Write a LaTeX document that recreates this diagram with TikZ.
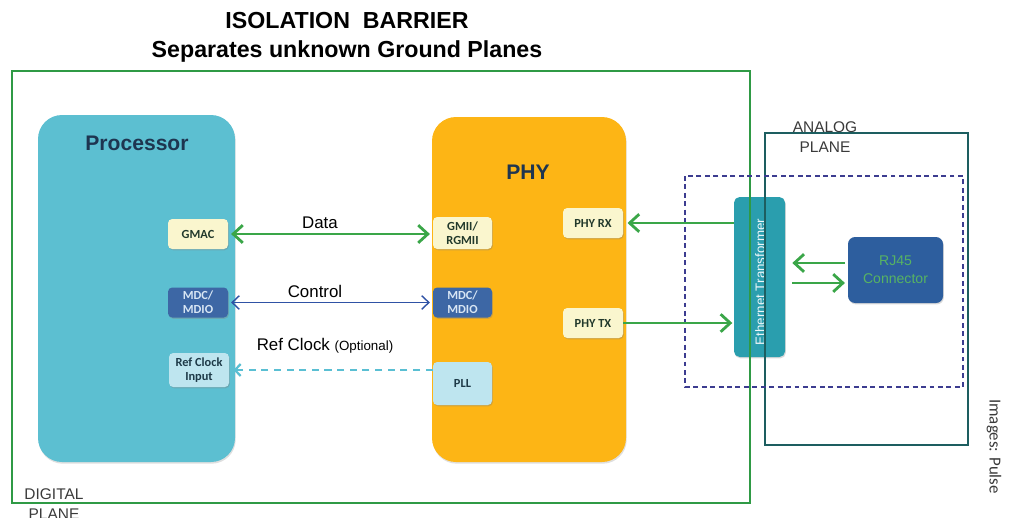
\documentclass[tikz,border=0pt]{standalone}
\usepackage{fontspec}
\setmainfont{Liberation Sans}
\newfontfamily\boxfont{Carlito}
\usepackage{xcolor}
\usepackage{tikz}
\usetikzlibrary{shapes,arrows,arrows.meta,positioning,calc,shadows}

\definecolor{procblue}{HTML}{5CBFD1}
\definecolor{phyorange}{HTML}{FDB515}
\definecolor{creambox}{HTML}{FAF6CE}
\definecolor{creamtext}{HTML}{22392B}
\definecolor{mdcblue}{HTML}{3D67A5}
\definecolor{mdctext}{HTML}{D8E6F4}
\definecolor{liteblue}{HTML}{BEE5EF}
\definecolor{litetext}{HTML}{1E3A48}
\definecolor{etteal}{HTML}{2A9EAE}
\definecolor{rjblue}{HTML}{2D5E9E}
\definecolor{greenln}{HTML}{3AA648}
\definecolor{ctrlblue}{HTML}{2F52A5}
\definecolor{clkblue}{HTML}{5ABFD3}
\definecolor{barrier}{HTML}{2F9A45}
\definecolor{analogln}{HTML}{1D5E60}
\definecolor{dashnavy}{HTML}{3C3C90}
\definecolor{planegray}{HTML}{3A3A3A}
\definecolor{lbldark}{HTML}{1E3550}

\begin{document}
\begin{tikzpicture}[
  bigblk/.style={rectangle, rounded corners=0.6cm, drop shadow={opacity=0.25, shadow xshift=0.5pt, shadow yshift=-1.2pt}},
  procblk/.style={bigblk, fill=procblue, minimum width=4.925cm, minimum height=8.675cm},
  phyblk/.style={bigblk, fill=phyorange, minimum width=4.85cm, minimum height=8.625cm},
  blklbl/.style={anchor=base, text=lbldark, font=\fontsize{15}{18}\selectfont\bfseries},
  port/.style={rectangle, rounded corners=3pt, minimum width=1.5cm, minimum height=0.75cm, inner sep=1pt, align=center,
    font=\fontsize{8.8}{10.2}\selectfont\boxfont\bfseries, drop shadow={opacity=0.35, shadow xshift=0.6pt, shadow yshift=-0.9pt}},
  creamport/.style={port, fill=creambox, text=creamtext},
  mdcport/.style={port, fill=mdcblue, text=mdctext},
  liteport/.style={port, fill=liteblue, text=litetext},
  title/.style={anchor=base, font=\fontsize{16.5}{20}\selectfont\bfseries},
  lbl/.style={anchor=base, font=\fontsize{12}{14}\selectfont},
  plane/.style={align=center, text=planegray, font=\fontsize{11}{14.2}\selectfont},
  gptr/.style={->, >={Straight Barb[length=2.4mm,width=4.4mm]}, line width=2pt, greenln},
  dataln/.style={gptr, <->},
  ctrlln/.style={<->, >={Straight Barb[length=1.8mm,width=3.4mm]}, line width=1pt, ctrlblue},
  clkln/.style={->, >={Straight Barb[length=1.4mm,width=3mm]}, line width=1.6pt, clkblue, dash pattern=on 5pt off 4pt}
]
\useasboundingbox (0,0) rectangle (25.35,-12.925);

% titles
\node[title] (ttl) at (8.675,-0.7) {ISOLATION\ \ BARRIER};
\node[title] (subttl) at (8.675,-1.425) {Separates unknown Ground Planes};

% processor side
\node[procblk] (proc) at (3.4125,-7.2125) {};
\node[blklbl] (proclbl) at (3.425,-3.75) {Processor};
\node[creamport] (gmac) at (4.95,-5.85) {GMAC};
\node[mdcport] (mdcl) at (4.95,-7.5625) {MDC/\\MDIO};
\node[liteport, minimum height=0.85cm] (refclk) at (4.975,-9.25) {Ref Clock\\Input};

% PHY side
\node[phyblk] (phy) at (13.225,-7.2375) {};
\node[blklbl] (phylbl) at (13.2,-4.475) {PHY};
\node[creamport, minimum width=1.475cm, minimum height=0.8cm] (gmii) at (11.5625,-5.825) {GMII/\\RGMII};
\node[mdcport, minimum width=1.475cm] (mdcr) at (11.5625,-7.5625) {MDC/\\MDIO};
\node[liteport, minimum width=1.475cm, minimum height=1.075cm] (pll) at (11.5625,-9.5875) {PLL};
\node[creamport] (phyrx) at (14.825,-5.575) {PHY RX};
\node[creamport] (phytx) at (14.825,-8.075) {PHY TX};

% magnetics and jack
\node[rectangle, rounded corners=4pt, fill=etteal, minimum width=1.275cm, minimum height=4cm,
  drop shadow={opacity=0.3, shadow xshift=0.6pt, shadow yshift=-1pt}] (et) at (18.9875,-6.925) {};
\node[rotate=90, text=white!92!etteal, font=\fontsize{9.5}{12}\selectfont] (etlbl) at (19,-7.05) {Ethernet Transformer};
\node[rectangle, rounded corners=5pt, fill=rjblue, minimum width=2.375cm, minimum height=1.65cm, align=center,
  text=greenln!85!white, font=\fontsize{10}{12.5}\selectfont,
  drop shadow={opacity=0.3, shadow xshift=0.6pt, shadow yshift=-1pt}] (rj45) at (22.3875,-6.75) {RJ45\\Connector};

% planes
\draw[barrier, line width=2pt] (0.3,-1.775) rectangle (18.75,-12.575);
\draw[analogln, line width=2pt] (19.125,-3.325) rectangle (24.2,-11.125);
\draw[dashnavy, line width=0.9pt, dash pattern=on 3.5pt off 2.5pt] (17.125,-4.4) rectangle (24.075,-9.675);
\node[plane] (analog) at (20.625,-3.43) {ANALOG\\PLANE};
\node[plane] (digital) at (1.35,-12.6) {DIGITAL\\PLANE};

% links
\draw[dataln, shorten <=2pt, shorten >=2pt] (gmac.east) -- (gmac.east -| gmii.west);
\node[lbl] (datalbl) at (8.0,-5.7) {Data};
\draw[ctrlln, shorten <=2pt, shorten >=2pt] (mdcl.east) -- (mdcl.east -| mdcr.west);
\node[lbl] (ctrllbl) at (7.875,-7.425) {Control};
\draw[clkln, shorten >=3pt] (refclk.east -| pll.west) -- (refclk.east);
\node[lbl] (clklbl) at (8.125,-8.75) {Ref Clock {\fontsize{9.5}{11}\selectfont(Optional)}};
\draw[gptr, shorten >=3pt] (phyrx.east -| et.west) -- (phyrx.east);
\draw[gptr, shorten >=1pt] (phytx.east) -- (phytx.east -| et.west);
\draw[gptr, shorten <=2pt, shorten >=5pt] ([yshift=0.175cm]rj45.west) -- ([yshift=0.175cm]rj45.west -| et.east);
\draw[gptr, shorten <=5pt, shorten >=2pt] ([yshift=-0.325cm]rj45.west -| et.east) -- ([yshift=-0.325cm]rj45.west);

\node[rotate=-90, text=planegray, font=\fontsize{12}{14}\selectfont\boxfont] (credit) at (24.85,-11.1625) {Images: Pulse};
\end{tikzpicture}
\end{document}
